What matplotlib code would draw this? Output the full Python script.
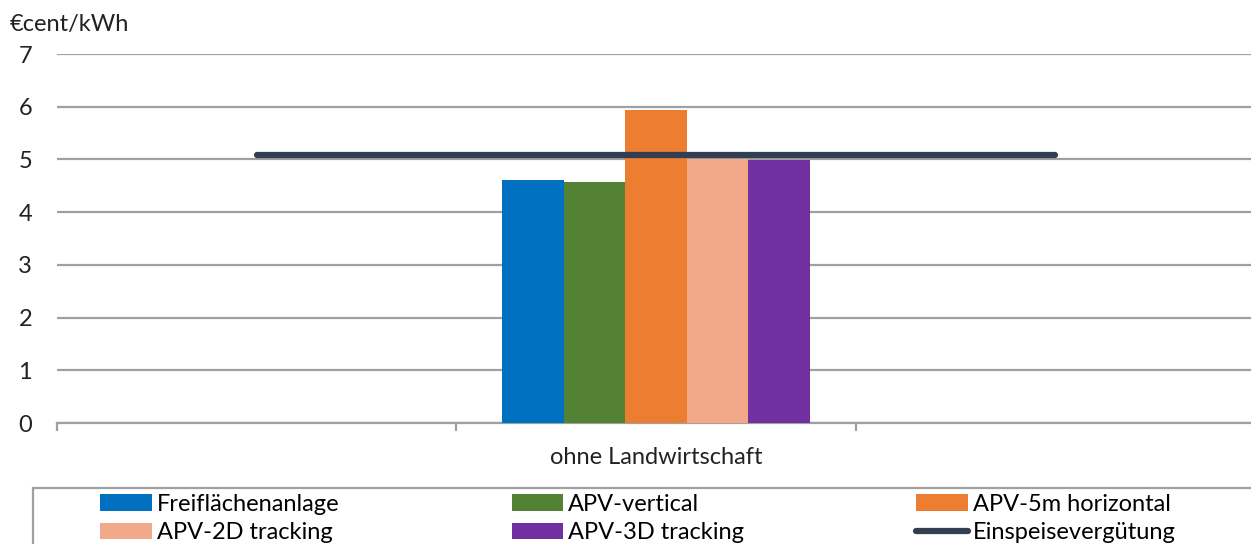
import numpy as np
import matplotlib
matplotlib.use("Agg")
import matplotlib.pyplot as plt
from matplotlib.patches import Rectangle

# data
categories = ["", "ohne Landwirtschaft", ""]
series = ["Freiflächenanlage", "APV-vertical", "APV-5m horizontal",
          "APV-2D tracking", "APV-3D tracking"]
values = [
    [np.nan, 4.61, np.nan],
    [np.nan, 4.58, np.nan],
    [np.nan, 5.94, np.nan],
    [np.nan, 5.01, np.nan],
    [np.nan, 4.99, np.nan],
]
colors = ["#0070C0", "#548235", "#ED7D31", "#F2A98A", "#7030A0"]
line_name = "Einspeisevergütung"
line_values = [5.08, 5.08, 5.08]

plt.rcParams['font.family'] = ['Lato', 'DejaVu Sans']
fs = 17

W, H = 1251, 544
fig = plt.figure(figsize=(W / 100, H / 100), dpi=100)
ax = fig.add_axes([57 / W, 1 - 423 / H, (1255 - 57) / W, (423 - 54) / H])

x = np.arange(len(categories))
bw = 0.154
for i, (name, vals, c) in enumerate(zip(series, values, colors)):
    ax.bar(x + (i - 2) * bw, vals, width=bw, color=c, label=name, zorder=3)

ax.plot(x, line_values, color="#333F50", lw=4.5, solid_capstyle="round",
        label=line_name, zorder=4)

ax.set_xlim(-0.5, 2.5)
ax.set_ylim(0, 7)
ax.set_yticks(range(0, 8))
ax.yaxis.grid(True, color="#A0A0A0", lw=1.6, zorder=0)
ax.set_axisbelow(True)
for s in ["top", "right", "left"]:
    ax.spines[s].set_visible(False)
ax.spines["bottom"].set_color("#A0A0A0")
ax.spines["bottom"].set_linewidth(1.6)
ax.tick_params(axis="y", length=0, pad=18, labelsize=fs, labelcolor="#222222")

ax.set_xticks(x)
ax.set_xticklabels(categories)
ax.set_xticks([-0.5, 0.5, 1.5, 2.5], minor=True)
ax.tick_params(axis="x", which="major", length=0, pad=17, labelsize=fs,
               labelcolor="#222222")
ax.tick_params(axis="x", which="minor", length=6, width=1.6, color="#A0A0A0")

fig.text(10 / W, 1 - 25 / H, "€cent/kWh", fontsize=fs, va="center",
         color="#222222")

# legend frame
fig.add_artist(Rectangle((33 / W, -0.2), 1.5, 1 - 488 / H + 0.2,
                         transform=fig.transFigure, fill=False,
                         edgecolor="#A0A0A0", lw=1.6))

handles, labels = ax.get_legend_handles_labels()
order = [1, 2, 3, 4, 5, 0]
handles = [handles[i] for i in order]
labels = [labels[i] for i in order]
# ncol=3 fills column-wise, so interleave to get the reference rows
idx = [0, 3, 1, 4, 2, 5]
handles = [handles[i] for i in idx]
labels = [labels[i] for i in idx]
fig.legend(handles, labels, ncol=3, mode="expand", frameon=False,
           loc="upper left",
           bbox_to_anchor=(100 / W, 1 - 499 / H, (1176 - 100) / W, 0.01),
           fontsize=fs, handlelength=2.2, handleheight=0.7,
           handletextpad=0.2, labelspacing=0.33, borderpad=0,
           borderaxespad=0)

fig.savefig("out.png", dpi=100)
